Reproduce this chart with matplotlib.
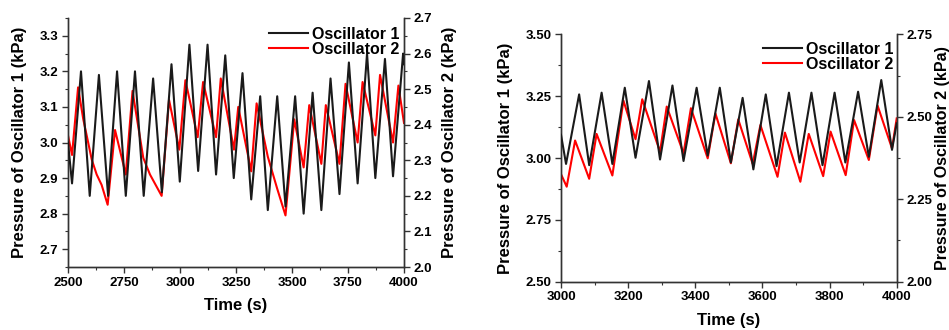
import matplotlib
matplotlib.use("Agg")
import matplotlib.pyplot as plt
from matplotlib.ticker import MultipleLocator, FormatStrFormatter

plt.rcParams['font.family'] = ['Liberation Sans', 'DejaVu Sans']
plt.rcParams['font.weight'] = 'bold'

# ---------------- Left panel data ----------------
left_t1 = [2500, 2518, 2558, 2597, 2638, 2679, 2719, 2758, 2799, 2838, 2880, 2919,
           2962, 2999, 3042, 3081, 3123, 3161, 3202, 3240, 3279, 3318, 3358, 3392,
           3434, 3471, 3514, 3552, 3592, 3631, 3672, 3712, 3754, 3793, 3835, 3872,
           3915, 3951, 3996, 4000]
left_p1 = [3.00, 2.885, 3.20, 2.85, 3.19, 2.85, 3.20, 2.85, 3.20, 2.85, 3.18, 2.86,
           3.22, 2.89, 3.275, 2.92, 3.275, 2.91, 3.245, 2.90, 3.195, 2.84, 3.13, 2.81,
           3.13, 2.82, 3.13, 2.80, 3.14, 2.81, 3.18, 2.855, 3.225, 2.885, 3.25, 2.90,
           3.235, 2.905, 3.25, 3.22]

left_t2 = [2500, 2518, 2545, 2568, 2606, 2628, 2650, 2677, 2710, 2758, 2788, 2836,
           2866, 2918, 2951, 2997, 3024, 3079, 3103, 3161, 3182, 3241, 3260, 3318,
           3342, 3392, 3434, 3471, 3510, 3552, 3577, 3631, 3651, 3712, 3739, 3793,
           3815, 3872, 3893, 3951, 3975, 4000]
left_p2 = [2.37, 2.315, 2.505, 2.416, 2.302, 2.26, 2.231, 2.175, 2.385, 2.26, 2.495, 2.307,
           2.26, 2.20, 2.47, 2.33, 2.525, 2.365, 2.52, 2.365, 2.53, 2.33, 2.45, 2.269,
           2.46, 2.31, 2.22, 2.145, 2.415, 2.28, 2.455, 2.29, 2.455, 2.29, 2.515, 2.35,
           2.52, 2.37, 2.54, 2.35, 2.51, 2.405]

# ---------------- Right panel data ----------------
right_t1 = [3000, 3015, 3054, 3084, 3121, 3153, 3190, 3222, 3262, 3295, 3332, 3365,
            3404, 3437, 3473, 3506, 3541, 3573, 3610, 3642, 3679, 3711, 3746, 3779,
            3815, 3847, 3885, 3917, 3954, 3986, 4000]
right_p1 = [3.094, 2.976, 3.257, 2.971, 3.264, 2.976, 3.284, 3.001, 3.311, 2.994, 3.293, 2.988,
            3.284, 3.01, 3.284, 2.982, 3.243, 2.954, 3.257, 2.967, 3.264, 2.982, 3.264, 2.971,
            3.264, 2.982, 3.268, 3.005, 3.315, 3.033, 3.14]

right_t2 = [3000, 3017, 3042, 3084, 3106, 3153, 3186, 3222, 3242, 3295, 3315, 3365,
            3387, 3437, 3460, 3506, 3528, 3571, 3594, 3645, 3667, 3713, 3738, 3781,
            3803, 3848, 3873, 3917, 3943, 3986, 4000]
right_p2 = [2.326, 2.288, 2.428, 2.312, 2.448, 2.322, 2.549, 2.432, 2.553, 2.394, 2.531, 2.389,
            2.526, 2.374, 2.51, 2.359, 2.492, 2.357, 2.475, 2.318, 2.452, 2.303, 2.448, 2.32,
            2.455, 2.323, 2.49, 2.369, 2.534, 2.404, 2.495]

series_names = ["Oscillator 1", "Oscillator 2"]
ylabel1 = "Pressure of Oscillator 1 (kPa)"
ylabel2 = "Pressure of Oscillator 2 (kPa)"
xlabel = "Time (s)"

BLACK = "#1a1a1a"
RED = "#ff0000"
LW = 1.5
TICK_FS = 9.5
LABEL_FS = 12
LEG_FS = 11.5

fig = plt.figure(figsize=(9.49, 3.30), dpi=100)

W, H = 949.0, 330.0
def rect(x0, y0, x1, y1):
    return [x0 / W, 1 - y1 / H, (x1 - x0) / W, (y1 - y0) / H]


def style_axes(ax, ax2):
    for a in (ax, ax2):
        a.spines['top'].set_visible(False)
        for s in ('left', 'right', 'bottom'):
            a.spines[s].set_linewidth(1.0)
            a.spines[s].set_color('#333333')
        a.tick_params(which='major', direction='out', length=4, width=1.0, pad=3,
                      labelsize=TICK_FS, colors='#333333', labelcolor='black')
        a.tick_params(which='minor', direction='out', length=2.5, width=0.8, colors='#333333')
    ax.tick_params(axis='y', which='both', right=False)
    ax2.tick_params(axis='y', which='both', left=False)
    for lab in ax.get_xticklabels() + ax.get_yticklabels() + ax2.get_yticklabels():
        lab.set_fontweight('bold')


def legend(ax, handles, x_px, y_px):
    ax.legend(handles, series_names, loc='upper right', frameon=False,
              bbox_to_anchor=(x_px / W, 1 - y_px / H), bbox_transform=fig.transFigure,
              prop={'weight': 'bold', 'size': LEG_FS},
              handlelength=2.4, handletextpad=0.25, labelspacing=-0.02,
              borderaxespad=0, borderpad=0)


# ---------------- Left panel ----------------
axL = fig.add_axes(rect(68, 18, 404, 267))
axL2 = axL.twinx()
l1, = axL.plot(left_t1, left_p1, color=BLACK, lw=LW, zorder=3)
l2, = axL2.plot(left_t2, left_p2, color=RED, lw=LW, zorder=2)
axL.set_zorder(axL2.get_zorder() + 1)
axL.patch.set_visible(False)
axL.set_xlim(2500, 4000)
axL.set_ylim(2.65, 3.35)
axL2.set_ylim(2.0, 2.7)
axL.xaxis.set_major_locator(MultipleLocator(250))
axL.xaxis.set_minor_locator(MultipleLocator(125))
axL.yaxis.set_major_locator(MultipleLocator(0.1))
axL.yaxis.set_minor_locator(MultipleLocator(0.05))
axL.yaxis.set_major_formatter(FormatStrFormatter('%.1f'))
axL2.yaxis.set_major_locator(MultipleLocator(0.1))
axL2.yaxis.set_minor_locator(MultipleLocator(0.05))
axL2.yaxis.set_major_formatter(FormatStrFormatter('%.1f'))
style_axes(axL, axL2)
axL.set_xlabel(xlabel, fontsize=LABEL_FS, fontweight='bold', labelpad=7)
axL.set_ylabel(ylabel1, fontsize=LABEL_FS, fontweight='bold', labelpad=9)
axL2.set_ylabel(ylabel2, fontsize=LABEL_FS, fontweight='bold', labelpad=7)
legend(axL, [l1, l2], 399, 27)

# ---------------- Right panel ----------------
axR = fig.add_axes(rect(561, 34.3, 896.7, 281.7))
axR2 = axR.twinx()
r1, = axR.plot(right_t1, right_p1, color=BLACK, lw=LW, zorder=3)
r2, = axR2.plot(right_t2, right_p2, color=RED, lw=LW, zorder=2)
axR.set_zorder(axR2.get_zorder() + 1)
axR.patch.set_visible(False)
axR.set_xlim(3000, 4000)
axR.set_ylim(2.5, 3.5)
axR2.set_ylim(2.0, 2.75)
axR.xaxis.set_major_locator(MultipleLocator(200))
axR.xaxis.set_minor_locator(MultipleLocator(100))
axR.yaxis.set_major_locator(MultipleLocator(0.25))
axR.yaxis.set_minor_locator(MultipleLocator(0.125))
axR.yaxis.set_major_formatter(FormatStrFormatter('%.2f'))
axR2.yaxis.set_major_locator(MultipleLocator(0.25))
axR2.yaxis.set_minor_locator(MultipleLocator(0.125))
axR2.yaxis.set_major_formatter(FormatStrFormatter('%.2f'))
style_axes(axR, axR2)
axR.set_xlabel(xlabel, fontsize=LABEL_FS, fontweight='bold', labelpad=7)
axR.set_ylabel(ylabel1, fontsize=LABEL_FS, fontweight='bold', labelpad=9)
axR2.set_ylabel(ylabel2, fontsize=11.5, fontweight='bold', labelpad=2)
legend(axR, [r1, r2], 893, 42)

fig.savefig("out.png", dpi=100)
